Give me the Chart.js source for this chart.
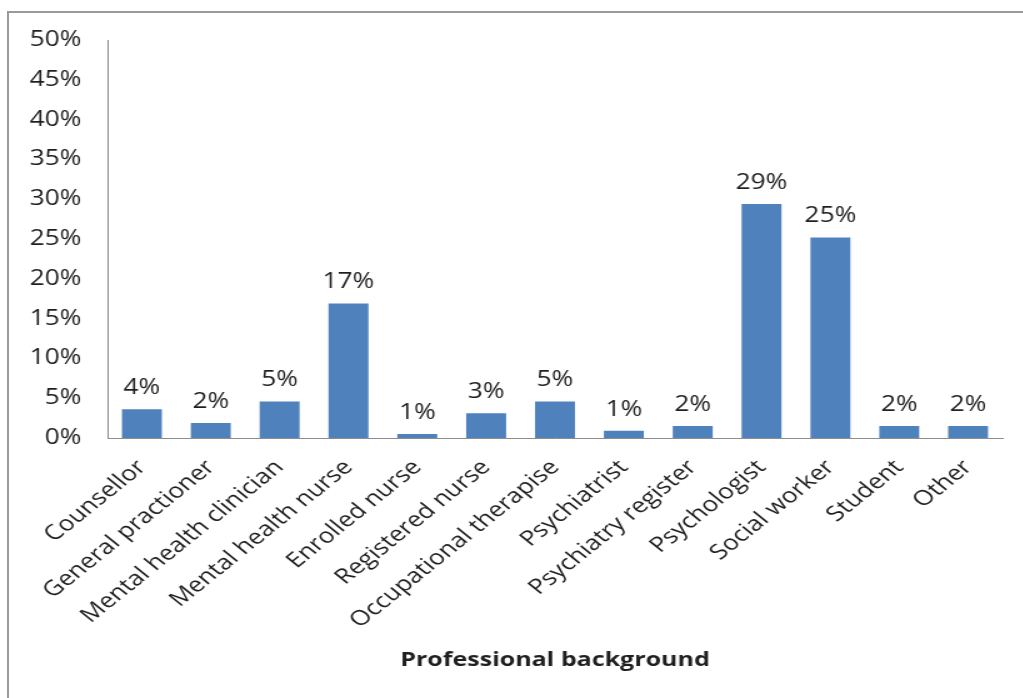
<!DOCTYPE html>
<html>
<head>
<meta charset="utf-8">
<script src="https://cdn.jsdelivr.net/npm/chart.js@4/dist/chart.umd.min.js"></script>
<style>
  html, body { margin:0; padding:0; background:#fff; overflow:hidden; }
  #wrap { position:relative; width:1023px; height:698px; }
  #frame { position:absolute; left:7px; top:11px; width:1030px; height:700px; border:2px solid #9a9a9a; box-sizing:border-box; }
  /* the original picture is stretched sideways, so the canvas is drawn narrow and widened */
  canvas { position:absolute; left:0; top:0; transform-origin:0 0; transform:scaleX(1.25); }
</style>
</head>
<body>
<div id="wrap">
  <div id="frame"></div>
  <canvas id="chart" width="819" height="698"></canvas>
</div>
<script>
// professional background of respondents (share, %)
const categories = ['Counsellor', 'General practioner', 'Mental health clinician', 'Mental health nurse',
  'Enrolled nurse', 'Registered nurse', 'Occupational therapise', 'Psychiatrist',
  'Psychiatry register', 'Psychologist', 'Social worker', 'Student', 'Other'];
const shares = [3.6, 1.9, 4.6, 16.9, 0.5, 3.1, 4.6, 0.9, 1.5, 29.4, 25.2, 1.5, 1.5];
const yTicks = [0, 5, 10, 15, 20, 25, 30, 35, 40, 45, 50];

const FONT = '"Open Sans", sans-serif';
const TEXT = '#1f1f1f';

// value labels above each bar
const barLabels = {
  id: 'barLabels',
  afterDatasetsDraw(chart) {
    const c = chart.ctx;
    const meta = chart.getDatasetMeta(0);
    c.save();
    c.font = '21px ' + FONT;
    c.fillStyle = TEXT;
    c.textAlign = 'center';
    c.textBaseline = 'alphabetic';
    meta.data.forEach((bar, i) => {
      c.fillText(Math.round(shares[i]) + '%', bar.x, bar.y - 15);
    });
    c.restore();
  }
};

const ctx = document.getElementById('chart').getContext('2d');
new Chart(ctx, {
  type: 'bar',
  data: {
    labels: categories,
    datasets: [{ data: shares, backgroundColor: '#4F81BD', categoryPercentage: 1, barPercentage: 0.58 }]
  },
  options: {
    responsive: false,
    animation: false,
    layout: { padding: { top: 40, right: 17, left: 0, bottom: 0 } },
    plugins: { legend: { display: false }, tooltip: { enabled: false } },
    scales: {
      x: {
        grid: { display: false, drawTicks: false },
        border: { color: '#8c8c8c', width: 1 },
        ticks: { color: TEXT, font: { family: FONT, size: 21 }, minRotation: 45, maxRotation: 45, autoSkip: false, padding: 17 },
        title: { display: true, text: 'Professional background', color: TEXT,
                 font: { family: FONT, size: 20, weight: 'bold' }, padding: { top: 0, bottom: 26 } },
        afterFit(s) { s.height = 260; }
      },
      y: {
        min: 0, max: 50,
        grid: { display: false, drawTicks: false },
        border: { color: '#8c8c8c', width: 1 },
        afterBuildTicks(s) { s.ticks = yTicks.map(v => ({ value: v })); },
        ticks: { color: TEXT, font: { family: FONT, size: 21 }, padding: 21, callback: v => v + '%' },
        afterFit(s) { s.width = 86; }
      }
    }
  },
  plugins: [barLabels]
});
</script>
</body>
</html>
